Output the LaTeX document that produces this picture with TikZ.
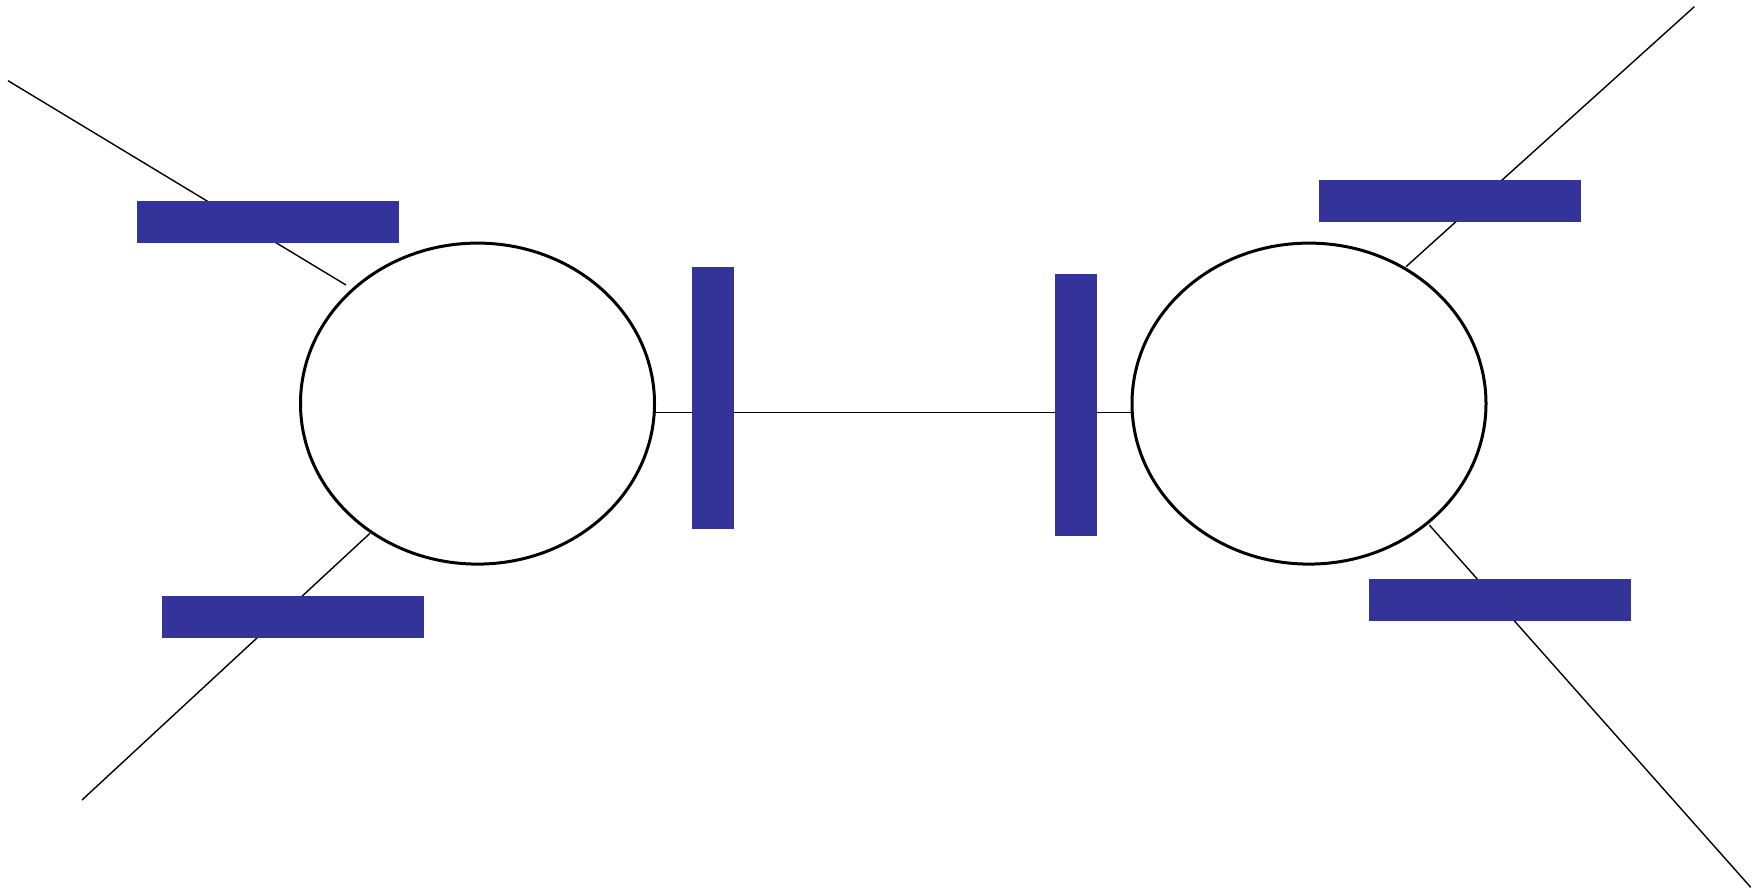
\documentclass[tikz,border=0pt]{standalone}
\usetikzlibrary{positioning, shapes.geometric}
\definecolor{barblue}{RGB}{51,51,153}

\begin{document}
\begin{tikzpicture}[
    x=1pt, y=-1pt,
    wheel/.style={draw, ellipse, line width=3pt, fill=white, inner sep=0pt, minimum width=354pt, minimum height=321pt},
    link/.style={line width=1.4pt},
    hbar/.style={rectangle, fill=barblue, inner sep=0pt, minimum width=262pt, minimum height=42pt},
    vbar/.style={rectangle, fill=barblue, inner sep=0pt, minimum width=42pt, minimum height=262pt}
]
\useasboundingbox (0,0) rectangle (1758,890);

% Ellipses
\node[wheel] (left)  at (477.5, 403.6) {};
\node[wheel] (right) at (1309,  403.6) {};

% Free ends of the lines
\coordinate (tlOut) at (8,    80.7);
\coordinate (tlIn)  at (346,  285);
\coordinate (blOut) at (82,   800);
\coordinate (blIn)  at (370,  533.3);
\coordinate (trOut) at (1694.3, 6.7);
\coordinate (trIn)  at (1406, 266.7);
\coordinate (brOut) at (1750.7, 887.3);
\coordinate (brIn)  at (1429.3, 525);
\coordinate (midL)  at (654.3, 412.4);
\coordinate (midR)  at (1132.3, 412.4);

% Lines
\draw[link] (tlOut) -- (tlIn);
\draw[link] (blOut) -- (blIn);
\draw[link] (trOut) -- (trIn);
\draw[link] (brOut) -- (brIn);
\draw[link] (midL) -- (midR);

% Bars
\node[hbar] (barTL) at (268.2, 222.2) {};
\node[hbar] (barBL) at (292.9, 617.2) {};
\node[hbar] (barTR) at (1450,  201)   {};
\node[hbar] (barBR) at (1499.5, 599.5) {};
\node[vbar] (barML) at (712.7, 398.4) {};
\node[vbar] (barMR) at (1076,  405.4) {};

\end{tikzpicture}
\end{document}
